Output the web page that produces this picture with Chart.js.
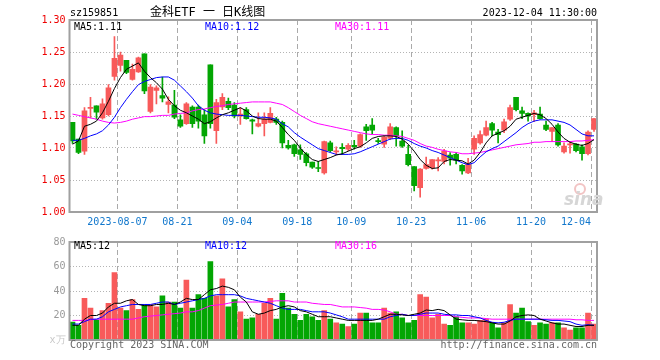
<!DOCTYPE html>
<html>
<head>
<meta charset="utf-8">
<script src="https://cdn.jsdelivr.net/npm/chart.js@4.4.0/dist/chart.umd.min.js"></script>
<style>
  body { margin: 0; background: #fff; }
  #wrap { position: relative; width: 660px; height: 360px; }
  canvas { position: absolute; left: 0; }
  #kline { top: 0; }
  #vol { top: 232px; }
</style>
</head>
<body>
<div id="wrap">
  <canvas id="kline" width="660" height="232"></canvas>
  <canvas id="vol" width="660" height="128"></canvas>
</div>
<script>
// trading days shown (2023)
const days = [
  '07-26','07-27','07-28','07-31','08-01','08-02','08-03','08-04',
  '08-07','08-08','08-09','08-10','08-11','08-14','08-15','08-16','08-17','08-18',
  '08-21','08-22','08-23','08-24','08-25','08-28','08-29','08-30','08-31','09-01',
  '09-04','09-05','09-06','09-07','09-08','09-11','09-12','09-13','09-14','09-15',
  '09-18','09-19','09-20','09-21','09-22','09-25','09-26','09-27','09-28',
  '10-09','10-10','10-11','10-12','10-13','10-16','10-17','10-18','10-19','10-20',
  '10-23','10-24','10-25','10-26','10-27','10-30','10-31','11-01','11-02','11-03',
  '11-06','11-07','11-08','11-09','11-10','11-13','11-14','11-15','11-16','11-17',
  '11-20','11-21','11-22','11-23','11-24','11-27','11-28','11-29','11-30','12-01',
  '12-04'
];

const openP = [
  1.140,1.114,1.095,1.162,1.166,1.147,1.152,1.212,1.229,1.237,1.207,1.219,1.247,1.157,1.190,1.182,1.168,1.167,1.144,1.138,1.164,1.164,
  1.152,1.230,1.127,1.164,1.173,1.167,1.150,1.160,1.144,1.134,1.138,1.140,1.145,1.140,1.104,1.105,1.097,1.091,1.078,1.069,1.061,1.108,
  1.094,1.101,1.098,1.104,1.103,1.133,1.136,1.111,1.106,1.115,1.132,1.111,1.090,1.071,1.038,1.068,1.069,1.080,1.079,1.089,1.090,1.073,
  1.061,1.098,1.108,1.120,1.138,1.125,1.128,1.145,1.179,1.158,1.154,1.152,1.153,1.136,1.126,1.136,1.094,1.105,1.106,1.102,1.091,1.129
];
const highP = [
  1.140,1.114,1.163,1.179,1.166,1.177,1.199,1.274,1.250,1.237,1.231,1.242,1.247,1.199,1.197,1.211,1.180,1.190,1.152,1.171,1.166,1.167,
  1.160,1.230,1.176,1.185,1.178,1.171,1.163,1.163,1.145,1.155,1.155,1.163,1.148,1.142,1.112,1.106,1.105,1.093,1.078,1.079,1.111,1.111,
  1.102,1.107,1.107,1.112,1.122,1.137,1.146,1.115,1.119,1.138,1.133,1.127,1.104,1.071,1.068,1.086,1.082,1.085,1.098,1.093,1.093,1.074,
  1.084,1.119,1.127,1.142,1.140,1.129,1.145,1.167,1.179,1.164,1.155,1.159,1.164,1.142,1.132,1.138,1.108,1.110,1.107,1.105,1.127,1.146
];
const lowP = [
  1.107,1.091,1.090,1.147,1.145,1.145,1.150,1.206,1.220,1.216,1.206,1.218,1.185,1.155,1.169,1.172,1.155,1.146,1.132,1.137,1.132,1.131,
  1.107,1.131,1.107,1.160,1.160,1.147,1.137,1.145,1.122,1.133,1.119,1.139,1.137,1.100,1.098,1.087,1.082,1.072,1.068,1.063,1.059,1.094,
  1.089,1.090,1.096,1.098,1.101,1.112,1.122,1.107,1.101,1.113,1.103,1.101,1.072,1.033,1.023,1.067,1.067,1.064,1.075,1.073,1.075,1.059,
  1.060,1.090,1.106,1.119,1.119,1.108,1.124,1.143,1.158,1.146,1.142,1.141,1.145,1.127,1.110,1.103,1.092,1.092,1.094,1.081,1.089,1.126
];
const closeP = [
  1.111,1.093,1.158,1.163,1.156,1.169,1.194,1.240,1.245,1.218,1.223,1.241,1.189,1.195,1.194,1.178,1.172,1.148,1.134,1.169,1.138,1.142,
  1.119,1.138,1.171,1.179,1.163,1.150,1.153,1.146,1.142,1.138,1.145,1.154,1.140,1.108,1.100,1.091,1.090,1.077,1.070,1.068,1.110,1.096,
  1.095,1.099,1.104,1.102,1.121,1.127,1.128,1.110,1.117,1.133,1.119,1.103,1.074,1.041,1.067,1.074,1.082,1.081,1.095,1.084,1.081,1.064,
  1.075,1.115,1.121,1.132,1.128,1.121,1.141,1.163,1.160,1.154,1.150,1.155,1.146,1.129,1.132,1.105,1.103,1.106,1.096,1.091,1.125,1.146
];

const ma5 = [
  1.106,1.111,1.134,1.137,1.142,1.155,1.173,1.193,1.210,1.223,1.228,1.233,1.220,1.210,1.202,1.192,1.176,1.166,1.159,1.155,1.150,1.145,
  1.138,1.141,1.147,1.152,1.155,1.159,1.163,1.158,1.150,1.146,1.145,1.145,1.142,1.132,1.121,1.112,1.100,1.090,1.082,1.079,1.082,1.085,
  1.089,1.091,1.095,1.099,1.102,1.108,1.115,1.118,1.119,1.119,1.118,1.114,1.106,1.095,1.082,1.073,1.068,1.069,1.079,1.082,1.081,1.080,
  1.075,1.081,1.093,1.108,1.119,1.123,1.127,1.134,1.145,1.148,1.151,1.154,1.152,1.146,1.137,1.125,1.115,1.109,1.106,1.104,1.107,1.113
];
const ma10 = [
  1.112,1.112,1.115,1.119,1.122,1.127,1.136,1.148,1.163,1.176,1.188,1.199,1.204,1.207,1.210,1.211,1.211,1.206,1.197,1.188,1.178,1.166,
  1.159,1.155,1.153,1.152,1.151,1.151,1.151,1.150,1.149,1.148,1.148,1.147,1.145,1.138,1.133,1.124,1.117,1.111,1.105,1.099,1.096,1.093,
  1.090,1.090,1.090,1.091,1.094,1.098,1.102,1.106,1.110,1.114,1.115,1.115,1.112,1.107,1.103,1.100,1.096,1.093,1.089,1.085,1.081,1.077,
  1.074,1.077,1.086,1.094,1.099,1.103,1.110,1.117,1.124,1.132,1.138,1.142,1.144,1.144,1.144,1.142,1.140,1.136,1.129,1.122,1.119,1.119
];
const ma30 = [
  1.153,1.151,1.149,1.147,1.145,1.142,1.140,1.139,1.140,1.142,1.145,1.147,1.149,1.149,1.150,1.151,1.151,1.153,1.154,1.155,1.158,1.160,
  1.161,1.163,1.165,1.166,1.168,1.169,1.170,1.171,1.172,1.172,1.172,1.172,1.170,1.168,1.163,1.157,1.151,1.146,1.141,1.138,1.136,1.134,
  1.132,1.130,1.128,1.126,1.124,1.122,1.121,1.121,1.120,1.120,1.119,1.118,1.115,1.112,1.107,1.103,1.101,1.098,1.096,1.094,1.093,1.091,
  1.091,1.092,1.093,1.095,1.097,1.099,1.101,1.103,1.105,1.106,1.107,1.109,1.109,1.110,1.110,1.110,1.110,1.110,1.111,1.111,1.112,1.113
];

// volume, 万手
const volume = [
  14.7,12,34,26,16.5,24,30,55,26,24,33,25,29,29,27,36,31,31,26,49,26,37,
  34,64,36,50,27,33,23,17,18,21,30,34,17,38,26,21,16,21,19,16,24,17,
  14,13,11,13,22,22,14,14,26,22,23,18,14,16,37,35,18,21,13,12,19,14,
  14,13,16,17,14,10,14,29,22,26,15,12,14,13,14,14,10,8,10,10,22,13
];
const volMa5 = [
  12,12,17,20,20,22,27,30,30,32,33,29,28,28,29,29,30,29,31,34,33,33,
  37,41,42,44,43,41,35,31,23,21,22,24,25,27,28,27,24,23,21,19,19,19,
  18,17,16,16,16,16,16,17,19,21,21,20.5,20,21,22,24.5,24,25,24,20.5,17,16.5,
  16,16,15.5,15,14,13,13,15.5,19,20,20.5,20,17,15.5,14,13,13,12,11,11,12,12
];
const volMa10 = [
  13,13,15,17,17,19,23,25,27,28,29,29,29,29,30,31,31,29,30,31,32,33,
  34,36,37,37,37,37,36,34,33,32,31,30,28,26,25,25,25,24,23,23,23,22,
  20.5,19,17,17,17,17,17,17,17,19,20,21,20,20,21,22,22,22,21,20.5,20.5,20,
  20,19,18,16,14.5,14,14.5,16,17,17,17,17,17,16.5,16,16,15.5,15,13,12,12.5,12
];
const volMa30 = [
  16,16,16,16.5,17,17,17,17,17,17,17,18,19,19.5,20,20.5,21,21.5,22,23,23,24,
  26,28,28.5,29,30,31,31,31,31,31,31,31.5,32,32,32,31,31,31,30,29.5,29,29,
  28,27,27,27,26.5,26,25,25,24.5,23,21,21,20,20,20,20,20,20,20,20,19,18.5,
  18,18,18,17.5,17,17,17,17,17,17,17,17,17,17,17,17,17,17,16.5,16.5,16,16
];

// dates that get a dashed line and a label
const tickDays = ['08-07','08-21','09-04','09-18','10-09','10-23','11-06','11-20','12-04'];
const tickText = ['2023-08-07','08-21','09-04','09-18','10-09','10-23','11-06','11-20','12-04     '];

const UP = '#f85a5a';
const DOWN = '#03a603';
const MONO = "'DejaVu Sans Mono', monospace";
const candleColor = openP.map((o, i) => (closeP[i] >= o ? UP : DOWN));
const tickIdx = tickDays.map(d => days.indexOf(d));

function labelFor(i) {
  const k = tickIdx.indexOf(i);
  return k >= 0 ? tickText[k] : '';
}

const frame = {
  id: 'frame',
  afterDraw(chart, args, opts) {
    const { ctx, chartArea: a } = chart;
    ctx.save();
    ctx.strokeStyle = '#a0a0a0';
    ctx.lineWidth = 2;
    ctx.strokeRect(a.left, a.top, a.right - a.left, a.bottom - a.top);
    if (opts.logo) {
      ctx.strokeStyle = '#f2c4c4';
      ctx.lineWidth = 2;
      ctx.beginPath();
      ctx.arc(580, 189, 5, 0, Math.PI * 2);
      ctx.stroke();
      ctx.font = "italic bold 17px 'DejaVu Sans', sans-serif";
      ctx.fillStyle = '#d6d6d6';
      ctx.textAlign = 'left';
      ctx.textBaseline = 'alphabetic';
      ctx.fillText('sina', 564, 205);
    }
    ctx.textBaseline = 'middle';
    (opts.texts || []).forEach(t => {
      ctx.font = t.font || '10px ' + MONO;
      ctx.fillStyle = t.color || '#000';
      ctx.textAlign = t.align || 'left';
      ctx.fillText(t.text, t.x, t.y);
    });
    ctx.restore();
  }
};

function xScale(showLabels) {
  return {
    offset: true,
    grid: {
      offset: true,
      drawTicks: false,
      color: c => (tickIdx.includes(c.index) ? '#aaaaaa' : 'transparent')
    },
    border: { display: false, dash: [5, 3] },
    ticks: {
      display: showLabels,
      autoSkip: false,
      maxRotation: 0,
      padding: 4,
      labelOffset: -3,
      color: '#1177cc',
      font: { family: MONO, size: 10 },
      callback: (v, i) => labelFor(i)
    },
    afterFit: s => { s.height = 20; }
  };
}

function lineSet(data, color) {
  return {
    type: 'line', data: data, borderColor: color, borderWidth: 1,
    pointRadius: 0, tension: 0, fill: false, order: -1
  };
}

new Chart(document.getElementById('kline'), {
  type: 'bar',
  data: {
    labels: days,
    datasets: [
      {
        data: openP.map((o, i) => [o, closeP[i]]),
        backgroundColor: candleColor, barThickness: 5, grouped: false, minBarLength: 1, order: 1
      },
      {
        data: lowP.map((l, i) => [l, highP[i]]),
        backgroundColor: candleColor, barThickness: 1, grouped: false, minBarLength: 1, order: 2
      },
      lineSet(ma5, '#000000'),
      lineSet(ma10, '#0000ff'),
      lineSet(ma30, '#ff00ff')
    ]
  },
  options: {
    responsive: false,
    devicePixelRatio: 1,
    animation: false,
    events: [],
    layout: { padding: { top: 20, right: 63, left: 0, bottom: 0 } },
    plugins: {
      legend: { display: false },
      tooltip: { enabled: false },
      frame: {
        logo: true,
        texts: [
          { text: 'sz159851', x: 70, y: 13 },
          { text: '金科ETF 一 日K线图', x: 150, y: 13, font: "12px 'DejaVu Sans Mono', 'Noto Sans CJK SC'" },
          { text: '2023-12-04 11:30:00', x: 597, y: 13, align: 'right' },
          { text: 'MA5:1.11', x: 74, y: 27 },
          { text: 'MA10:1.12', x: 205, y: 27, color: '#0000ff' },
          { text: 'MA30:1.11', x: 335, y: 27, color: '#ff00ff' }
        ]
      }
    },
    scales: {
      x: xScale(true),
      y: {
        min: 1.0,
        max: 1.3,
        grid: {
          drawTicks: false,
          color: c => (c.tick && c.tick.value > 1.001 && c.tick.value < 1.299 ? '#b4b4b4' : 'transparent')
        },
        border: { display: false, dash: [1, 2] },
        ticks: {
          stepSize: 0.05,
          padding: 4,
          color: '#ee0000',
          font: { family: MONO, size: 10 },
          callback: v => v.toFixed(2)
        },
        afterFit: s => { s.width = 69.5; }
      }
    }
  },
  plugins: [frame]
});

new Chart(document.getElementById('vol'), {
  type: 'bar',
  data: {
    labels: days,
    datasets: [
      { data: volume, backgroundColor: candleColor, barThickness: 5, grouped: false, order: 1 },
      lineSet(volMa5, '#000000'),
      lineSet(volMa10, '#0000ff'),
      lineSet(volMa30, '#ff00ff')
    ]
  },
  options: {
    responsive: false,
    devicePixelRatio: 1,
    animation: false,
    events: [],
    layout: { padding: { top: 8, right: 63, left: 0, bottom: 0 } },
    plugins: {
      legend: { display: false },
      tooltip: { enabled: false },
      frame: {
        texts: [
          { text: 'MA5:12', x: 74, y: 14 },
          { text: 'MA10:12', x: 205, y: 14, color: '#0000ff' },
          { text: 'MA30:16', x: 335, y: 14, color: '#ff00ff' },
          { text: 'Copyright 2023 SINA.COM', x: 70, y: 113.5, color: '#666666' },
          { text: 'http://finance.sina.com.cn', x: 597, y: 113.5, align: 'right', color: '#666666' }
        ]
      }
    },
    scales: {
      x: xScale(false),
      y: {
        min: 0,
        max: 80,
        grid: {
          drawTicks: false,
          color: c => (c.tick && c.tick.value > 0 && c.tick.value < 80 ? '#b4b4b4' : 'transparent')
        },
        border: { display: false, dash: [1, 2] },
        ticks: {
          stepSize: 20,
          padding: 4,
          color: c => (c.tick && c.tick.value === 0 ? '#c8c8c8' : '#999999'),
          font: { family: MONO, size: 10 },
          callback: v => (v === 0 ? 'x万' : v)
        },
        afterFit: s => { s.width = 69.5; }
      }
    }
  },
  plugins: [frame]
});
</script>
</body>
</html>
